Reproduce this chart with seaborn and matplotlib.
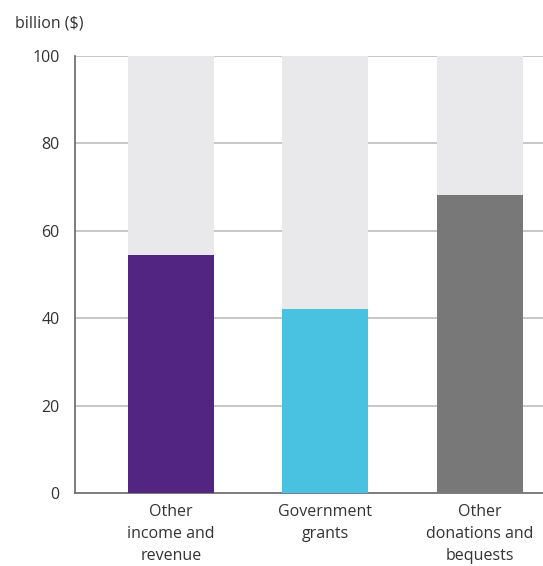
import matplotlib
matplotlib.use("Agg")
import matplotlib.pyplot as plt
import seaborn as sns
import pandas as pd

categories = ["Other\nincome and\nrevenue", "Government\ngrants", "Other\ndonations and\nbequests"]
values = [54.5, 42.1, 68.2]
totals = [100, 100, 100]
colors = ["#512581", "#48c2e0", "#787878"]
y_ticks = [0, 20, 40, 60, 80, 100]

sns.set_theme(style="white")
plt.rcParams["font.family"] = ["Open Sans", "DejaVu Sans"]

df = pd.DataFrame({"category": categories, "value": values, "total": totals})

fig = plt.figure(figsize=(5.43, 5.66), dpi=100)
ax = fig.add_axes([75 / 543, 73 / 566, 1 - 75 / 543, 437 / 566])

for y in y_ticks[1:]:
    ax.axhline(y, color="#bdbdbd", lw=1.2, zorder=0)

sns.barplot(data=df, x="category", y="total", color="#e9e8ea", width=0.555,
            saturation=1, linewidth=0, ax=ax, zorder=2)
sns.barplot(data=df, x="category", y="value", hue="category", palette=colors,
            width=0.555, saturation=1, linewidth=0, legend=False, ax=ax, zorder=3)

ax.set_ylim(0, 100)
ax.set_xlim(-0.62, 2.41)
ax.set_yticks(y_ticks)
ax.set_yticklabels([str(t) for t in y_ticks], fontsize=11.5, color="#333333")
ax.set_xticks(range(len(categories)))
ax.set_xticklabels(categories, fontsize=11.5, color="#333333", linespacing=1.5)
ax.tick_params(axis="both", length=0)
ax.tick_params(axis="y", pad=11)
ax.tick_params(axis="x", pad=8)
ax.set_xlabel("")
ax.set_ylabel("")

for side in ["top", "right"]:
    ax.spines[side].set_visible(False)
ax.spines["left"].set_color("#666666")
ax.spines["left"].set_linewidth(1.2)
ax.spines["bottom"].set_color("#666666")
ax.spines["bottom"].set_linewidth(1.2)

fig.text(15 / 543, 1 - 23 / 566, "billion ($)", fontsize=11.5, color="#333333",
         ha="left", va="center")

fig.savefig("out.png", dpi=100)
